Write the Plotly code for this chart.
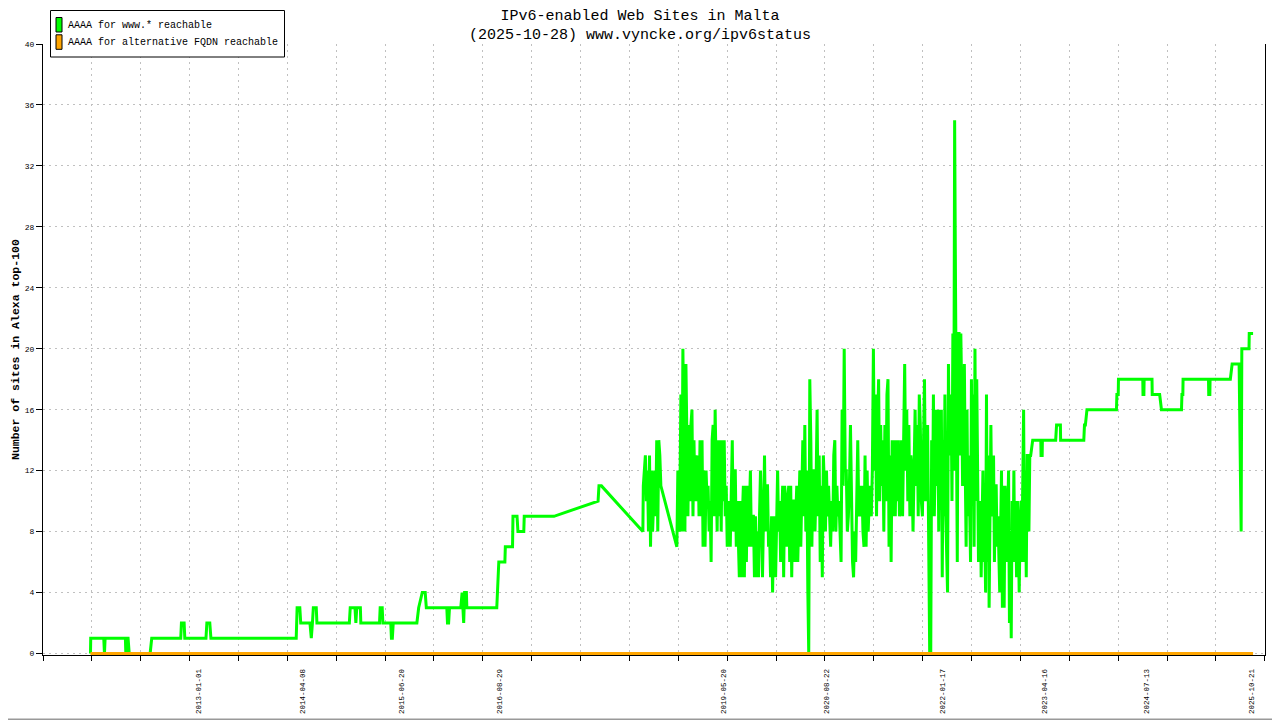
import pandas as pd
import plotly.graph_objects as go

# www.* reachable, sparse/step periods (date, sites)
early_dates = [
    "2011-09-07", "2011-09-08", "2011-11-05", "2011-11-08", "2011-11-11",
    "2012-02-09", "2012-02-11", "2012-02-17", "2012-02-21", "2012-02-26",
    "2012-05-29", "2012-06-05", "2012-10-12", "2012-10-15", "2012-10-27", "2012-10-30",
    "2013-02-01", "2013-02-05", "2013-02-18", "2013-02-23",
    "2014-03-09", "2014-03-13", "2014-03-25", "2014-03-29",
    "2014-05-09", "2014-05-15", "2014-05-20", "2014-05-24", "2014-06-06", "2014-06-09",
    "2014-10-31", "2014-11-04", "2014-11-25", "2014-11-29", "2014-12-03", "2014-12-19", "2014-12-21",
    "2015-03-14", "2015-03-17", "2015-03-26", "2015-03-29",
    "2015-05-03", "2015-05-06", "2015-05-10", "2015-05-14",
    "2015-08-27", "2015-09-04", "2015-09-20", "2015-10-03", "2015-10-08",
    "2016-01-07", "2016-01-10", "2016-01-15", "2016-01-19",
    "2016-03-09", "2016-03-15", "2016-03-22", "2016-03-26", "2016-04-03", "2016-04-05",
    "2016-08-16", "2016-08-22", "2016-08-25", "2016-09-21", "2016-09-23", "2016-10-25",
    "2016-10-27", "2016-11-14", "2016-11-18", "2016-12-14", "2016-12-16",
    "2017-04-27", "2017-11-09", "2017-11-13", "2017-11-24", "2018-05-27",
]
early_values = [
    0, 1, 1, 0, 1,
    1, 0, 1, 1, 0,
    0, 1, 1, 2, 2, 1,
    1, 2, 2, 1,
    1, 3, 3, 2,
    2, 1, 2, 3, 3, 2,
    2, 3, 3, 2, 3, 3, 2,
    2, 3, 3, 2,
    2, 1, 1, 2,
    2, 3, 4, 4, 3,
    3, 2, 2, 3,
    3, 4, 2, 4, 4, 3,
    3, 5, 6, 6, 7, 7,
    9, 9, 8, 8, 9,
    9, 10, 11, 11, 8,
]

# daily-ish noisy periods: (first day, last day, values)
noisy_a = ("2018-05-29", "2018-08-15",
           [11, 12, 13, 10, 12, 8, 13, 7, 12, 8, 10, 12, 9, 14, 8, 14, 13, 11])
noisy_b1 = ("2018-10-25", "2020-05-29",
            [7, 12, 8, 10, 17, 8, 20, 13, 8, 19, 13, 9, 15, 10, 15, 16, 9, 14, 10, 13,
             10, 13, 9, 14, 9, 14, 7, 12, 7, 12, 10, 11, 8, 10, 6, 14, 15, 9, 16, 10,
             8, 14, 9, 14, 8, 14, 10, 14, 9, 11, 7, 10, 9, 7, 11, 14, 8, 12, 12, 7,
             10, 6, 5, 10, 5, 9, 11, 5, 11, 6, 11, 7, 9, 12, 7, 9, 9, 5, 9, 5,
             8, 5, 9, 12, 9, 5, 9, 13, 8, 11, 11, 7, 8, 5, 9, 4, 8, 9, 5, 9,
             12, 8, 10, 6, 10, 11, 5, 11, 10, 7, 10, 11, 6, 11, 5, 10, 10, 6, 9, 11,
             6, 10, 12, 7, 12, 14, 9, 15, 8, 12, 4])
noisy_b2 = ("2020-06-02", "2021-11-26",
            [0, 18, 14, 7, 12, 12, 8, 11, 16, 9, 13, 6, 11, 5, 13, 11, 8, 12, 9, 11,
             8, 7, 10, 8, 13, 14, 8, 11, 9, 10, 8, 6, 16, 11, 20, 12, 12, 8, 9, 11,
             15, 9, 6, 5, 8, 6, 12, 14, 9, 11, 9, 11, 8, 7, 13, 7, 12, 8, 10, 11,
             9, 12, 20, 12, 17, 9, 15, 18, 10, 15, 11, 14, 8, 15, 10, 17, 18, 7, 13, 6,
             14, 9, 14, 9, 14, 10, 14, 9, 10, 14, 9, 14, 19, 12, 16, 10, 15, 9, 13, 12,
             8, 12, 16, 11, 15, 9, 17, 15, 10, 9, 15, 18, 10, 14, 15, 8, 0, 0])
noisy_b3 = ("2021-11-30", "2023-02-13",
            [14, 9, 17, 9, 15, 16, 11, 16, 8, 16, 10, 16, 5, 14, 9, 17, 9, 6, 4, 19,
             13, 16, 17, 10, 21, 12, 35, 24, 12, 6, 21, 21, 13, 21, 17, 11, 13, 19, 12, 7,
             16, 9, 13, 9, 6, 18, 10, 17, 7, 20, 10, 18, 9, 6, 9, 10, 5, 10, 12, 6,
             8, 4, 17, 6, 13, 3, 11, 15, 9, 12, 13, 6, 11, 11, 7, 9, 6, 4, 8, 12,
             3, 11, 3, 11, 10, 6, 9, 12, 2, 8, 1, 10, 6, 12, 6, 10, 5, 10, 8, 4,
             8, 10, 6, 10, 16, 6, 12, 5, 13, 13, 8, 13, 13])

late_dates = [
    "2023-02-22", "2023-03-30", "2023-03-31", "2023-04-05", "2023-04-06", "2023-06-04",
    "2023-06-08", "2023-06-25", "2023-06-26", "2023-10-07", "2023-10-10", "2023-10-14",
    "2023-10-21", "2024-02-29", "2024-03-02", "2024-03-08", "2024-03-09", "2024-06-25",
    "2024-06-26", "2024-06-30", "2024-07-01", "2024-08-05", "2024-08-06", "2024-09-08",
    "2024-09-16", "2024-12-14", "2024-12-16", "2024-12-20", "2024-12-21", "2025-04-13",
    "2025-04-14", "2025-04-19", "2025-04-20", "2025-07-19", "2025-07-27", "2025-08-27",
    "2025-08-31", "2025-09-05", "2025-09-08", "2025-10-10", "2025-10-11", "2025-10-28",
]
late_values = [
    14, 14, 13, 13, 14, 14,
    15, 15, 14, 14, 15, 15,
    16, 16, 17, 17, 18, 18,
    17, 17, 18, 18, 17, 17,
    16, 16, 17, 17, 18, 18,
    17, 17, 18, 18, 19, 19,
    14, 8, 20, 20, 21, 21,
]

# alternative FQDN reachable: flat zero over whole period
alt_dates = ["2011-09-07", "2025-10-28"]
alt_values = [0, 0]

label_dates = ["2013-01-01", "2014-04-08", "2015-06-20", "2016-08-29", "2019-05-20",
               "2020-08-22", "2022-01-17", "2023-04-16", "2024-07-13", "2025-10-21"]

series_names = ["AAAA for www.* reachable", "AAAA for alternative FQDN reachable"]

www_x = list(pd.to_datetime(early_dates))
www_y = list(early_values)
for start, end, vals in [noisy_a, noisy_b1, noisy_b2, noisy_b3]:
    www_x += list(pd.date_range(start, end, periods=len(vals)))
    www_y += vals
www_x += list(pd.to_datetime(late_dates))
www_y += late_values

GREEN = "#00ff00"
ORANGE = "#ffa500"
MONO = "Liberation Mono"
GRID = "#c0c0c0"

# the html page puts the figure 8px in from the top-left corner,
# so everything is laid out in page pixels minus that offset
OFF = 8
L, R, T, B = 43 - OFF, 1265 - OFF, 44 - OFF, 655 - OFF


def px(x):
    return (x - OFF - L) / (R - L)


def py(y):
    return (B - (y - OFF)) / (B - T)


fig = go.Figure()
fig.add_trace(go.Scatter(x=www_x, y=www_y, mode="lines", name=series_names[0],
                         showlegend=False, line=dict(color=GREEN, width=3)))
fig.add_trace(go.Scatter(x=pd.to_datetime(alt_dates), y=alt_values, mode="lines",
                         name=series_names[1], showlegend=False,
                         line=dict(color=ORANGE, width=3)))

tick_step_ms = 5428 / 25 * 86400000

fig.update_xaxes(
    type="date", range=["2011-02-08", "2025-12-20"], automargin=False,
    tickmode="array", tickvals=label_dates, ticktext=label_dates,
    tickangle=-90, ticks="outside", ticklen=10, tickcolor="rgba(0,0,0,0)",
    tickfont=dict(family=MONO, size=7.5, color="black"),
    showgrid=False, zeroline=False, layer="below traces",
    showline=True, linecolor="black", linewidth=1,
    minor=dict(tick0="2011-02-08", dtick=tick_step_ms, ticks="outside", ticklen=5,
               tickcolor="black", showgrid=True, gridcolor=GRID, griddash="2px,4px",
               gridwidth=1),
)
fig.update_yaxes(
    range=[-0.1, 40], tick0=0, dtick=4, ticks="outside", ticklen=6, tickcolor="black",
    tickfont=dict(family=MONO, size=8, color="black"), automargin=False,
    showgrid=True, gridcolor=GRID, griddash="2px,4px", gridwidth=1,
    zeroline=False, showline=True, linecolor="black", linewidth=1, mirror=True,
)

# hand-drawn legend box like the original
shapes = [
    dict(type="rect", xref="paper", yref="paper",
         x0=px(0.5), x1=px(1279.5), y0=py(719.5), y1=py(0.5),
         line=dict(color="#999999", width=2)),
    dict(type="rect", xref="paper", yref="paper",
         x0=px(50.5), x1=px(284.5), y0=py(57), y1=py(10.5),
         fillcolor="white", line=dict(color="black", width=1)),
]
annotations = [
    dict(text="<b>Number of sites in Alexa top-100</b>", textangle=-90,
         xref="paper", yref="paper", x=px(15), y=py(350),
         xanchor="center", yanchor="middle",
         showarrow=False, font=dict(family=MONO, size=11.5, color="black")),
]
for i, (name, col) in enumerate(zip(series_names, [GREEN, ORANGE])):
    top = 17.5 + i * 17.3
    shapes.append(dict(type="rect", xref="paper", yref="paper",
                       x0=px(56), x1=px(62), y0=py(top + 14.5), y1=py(top),
                       fillcolor=col, line=dict(color="black", width=1)))
    annotations.append(dict(text=name, xref="paper", yref="paper",
                            x=px(66), y=py(top + 7.5), xanchor="left", yanchor="middle",
                            showarrow=False, font=dict(family=MONO, size=10, color="black")))

fig.update_layout(
    width=1280, height=720,
    margin=dict(l=L, r=1280 - R, t=T, b=720 - B, autoexpand=False),
    paper_bgcolor="white", plot_bgcolor="white",
    showlegend=False,
    title=dict(text="IPv6-enabled Web Sites in Malta<br>(2025-10-28) www.vyncke.org/ipv6status",
               x=(640 - OFF) / 1280, xref="container", xanchor="center",
               y=0.984, yref="container", yanchor="top", pad=dict(t=0),
               font=dict(family=MONO, size=15, color="black")),
    annotations=annotations,
    shapes=shapes,
)

fig.write_html("out.html")
